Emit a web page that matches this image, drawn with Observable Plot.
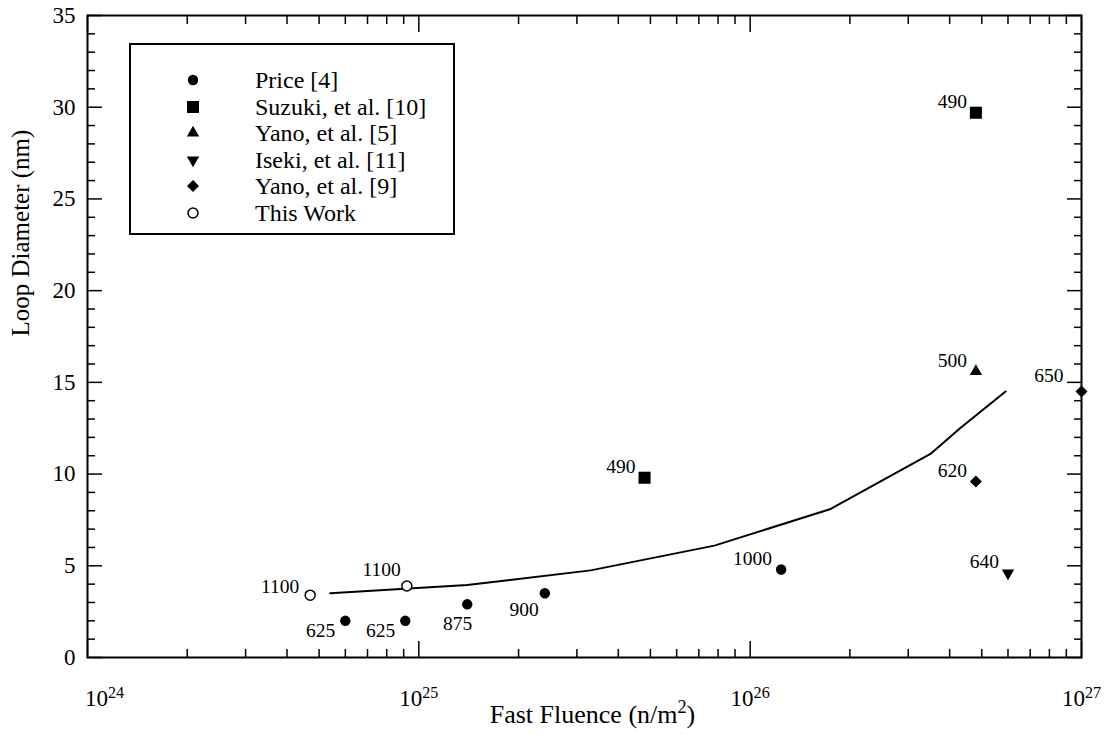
<!DOCTYPE html>
<html>
<head>
<meta charset="utf-8">
<script src="https://cdn.jsdelivr.net/npm/d3@7"></script>
<script src="https://cdn.jsdelivr.net/npm/@observablehq/plot@0.6"></script>
<style>
  html, body { margin: 0; padding: 0; background: #fff; }
  #wrap { position: relative; width: 1117px; height: 735px; }
  #legend {
    position: absolute; left: 129px; top: 43px; width: 326px; height: 192px;
    box-sizing: border-box; border: 2px solid #000; background: #fff;
    font-family: "Liberation Serif", "Times New Roman", serif; font-size: 24px; color: #000;
  }
  #legend .row { position: absolute; left: 0; height: 24px; line-height: 24px; white-space: nowrap; }
  #legend svg { position: absolute; left: 50px; top: 0; }
  #legend span { position: absolute; left: 124px; top: 0; }
</style>
</head>
<body>
<div id="wrap"><div id="chart"></div><div id="legend"></div></div>
<script>
// ---------------- data ----------------
const priceX = [6.0e24, 9.1e24, 1.4e25, 2.4e25, 1.24e26];
const priceY = [2.0, 2.0, 2.9, 3.5, 4.8];
const priceT = ["625", "625", "875", "900", "1000"];
const pricePos = ["sw", "sw", "s", "ssw", "nw"];

const suzukiX = [4.8e25, 4.8e26];
const suzukiY = [9.8, 29.7];
const suzukiT = ["490", "490"];
const suzukiPos = ["nw", "nw"];

const yano5X = [4.8e26];
const yano5Y = [15.6];
const yano5T = ["500"];
const yano5Pos = ["nw"];

const isekiX = [6.0e26];
const isekiY = [4.6];
const isekiT = ["640"];
const isekiPos = ["nw"];

const yano9X = [4.8e26, 1.0e27];
const yano9Y = [9.6, 14.5];
const yano9T = ["620", "650"];
const yano9Pos = ["nw", "nnw"];

const workX = [4.7e24, 9.2e24];
const workY = [3.4, 3.9];
const workT = ["1100", "1100"];
const workPos = ["w", "n"];

// model curve
const fitX = [5.4e24, 1.4e25, 3.3e25, 7.8e25, 1.75e26, 3.5e26, 4.3e26, 5.9e26];
const fitY = [3.5, 3.95, 4.75, 6.1, 8.1, 11.1, 12.5, 14.5];

// ticks
const xMajor = [1e24, 1e25, 1e26, 1e27];
const yMajor = [0, 5, 10, 15, 20, 25, 30, 35];
const seriesNames = ["Price [4]", "Suzuki, et al. [10]", "Yano, et al. [5]", "Iseki, et al. [11]", "Yano, et al. [9]", "This Work"];

// ---------------- styles ----------------
const styles = [
  {symbol: "circle",   r: 5.2, fill: "black", stroke: "none",  rotate: 0},
  {symbol: "square",   r: 6.8, fill: "black", stroke: "none",  rotate: 0},
  {symbol: "triangle", r: 4.6, fill: "black", stroke: "none",  rotate: 0},
  {symbol: "triangle", r: 4.6, fill: "black", stroke: "none",  rotate: 180},
  {symbol: "diamond2", r: 5.4, fill: "black", stroke: "none",  rotate: 0},
  {symbol: "circle",   r: 5.0, fill: "white", stroke: "black", rotate: 0}
];
const labelOffsets = {nw: [-9, -11], w: [-11, -8], n: [-6, -16], nnw: [-18, -16], sw: [-10, 10], ssw: [-6, 16], s: [5, 19]};

const seriesData = [
  [priceX, priceY, priceT, pricePos],
  [suzukiX, suzukiY, suzukiT, suzukiPos],
  [yano5X, yano5Y, yano5T, yano5Pos],
  [isekiX, isekiY, isekiT, isekiPos],
  [yano9X, yano9Y, yano9T, yano9Pos],
  [workX, workY, workT, workPos]
].map(([xs, ys, ts, ps], i) => xs.map((x, j) => ({x, y: ys[j], label: ts[j], pos: ps[j], s: i})));
const allPts = seriesData.flat();
const fit = fitX.map((x, i) => ({x, y: fitY[i]}));

const xMinor = [];
for (let e = 24; e < 27; e++) for (let k = 2; k <= 9; k++) xMinor.push(k * Math.pow(10, e));
const yMinor = d3.range(0, 36).filter(v => v % 5 !== 0);

const blank = () => "";
const tickStyle = {tickFormat: blank, label: null, strokeWidth: 1.5};

const marks = [
  Plot.axisY(yMajor, {anchor: "left", tickSize: -15, ...tickStyle}),
  Plot.axisY(yMinor, {anchor: "left", tickSize: -8, ...tickStyle}),
  Plot.axisY(yMajor, {anchor: "right", tickSize: -15, ...tickStyle}),
  Plot.axisY(yMinor, {anchor: "right", tickSize: -8, ...tickStyle}),
  Plot.axisX(xMajor, {anchor: "bottom", tickSize: -16, ...tickStyle}),
  Plot.axisX(xMinor, {anchor: "bottom", tickSize: -8, ...tickStyle}),
  Plot.axisX(xMajor, {anchor: "top", tickSize: -16, ...tickStyle}),
  Plot.axisX(xMinor, {anchor: "top", tickSize: -8, ...tickStyle}),
  Plot.axisY(yMajor, {anchor: "left", tickSize: 0, tickPadding: 12, fontSize: 23, label: null}),
  Plot.axisX(xMajor, {anchor: "bottom", tickSize: 0, tickPadding: 32, fontSize: 23, label: null,
    tickFormat: d => "10^" + Math.round(Math.log10(d))}),
  Plot.frame({stroke: "black", strokeWidth: 2}),
  Plot.line(fit, {x: "x", y: "y", stroke: "black", strokeWidth: 2, curve: "linear"}),
  Plot.text(["Loop Diameter (nm)"], {frameAnchor: "left", rotate: -90, dx: -67, fontSize: 25}),
  Plot.text(["Fast Fluence (n/m^2)"], {frameAnchor: "bottom", dx: 8, dy: 65, fontSize: 26})
];

seriesData.forEach((pts, i) => {
  const st = styles[i];
  marks.push(Plot.dot(pts, {x: "x", y: "y", symbol: st.symbol, r: st.r, fill: st.fill,
    stroke: st.stroke, strokeWidth: 1.5, rotate: st.rotate}));
});

for (const code of Object.keys(labelOffsets)) {
  const [dx, dy] = labelOffsets[code];
  marks.push(Plot.text(allPts.filter(d => d.pos === code), {x: "x", y: "y", text: "label",
    textAnchor: "end", dx, dy, fontSize: 19.5}));
}

const chart = Plot.plot({
  width: 1117, height: 735,
  marginTop: 15, marginRight: 36, marginBottom: 78, marginLeft: 87,
  style: {fontFamily: '"Liberation Serif", "Times New Roman", serif', fontSize: "22px", background: "white", color: "black", overflow: "visible"},
  x: {type: "log", domain: [1e24, 1e27]},
  y: {domain: [0, 35]},
  marks
});
document.getElementById("chart").appendChild(chart);

// superscripts (10^n tick labels and m^2)
d3.select(chart).selectAll("text").each(function() {
  const t = this.textContent;
  if (t.includes("^")) {
    const [base, sup] = t.split("^");
    const el = d3.select(this);
    el.text("");
    el.append("tspan").text(base);
    el.append("tspan").attr("dy", "-0.5em").attr("font-size", "0.7em").text(sup.replace(")", ""));
    if (sup.endsWith(")")) el.append("tspan").attr("dy", "0.35em").text(")");
    if (t === "10^24") el.attr("dx", 17);
  }
});

// legend
const legend = document.getElementById("legend");
seriesNames.forEach((name, i) => {
  const st = styles[i];
  const row = document.createElement("div");
  row.className = "row";
  row.style.top = (23 + i * 26.5) + "px";
  row.style.width = "100%";
  const svg = d3.create("svg").attr("width", 24).attr("height", 24);
  const symType = {circle: d3.symbolCircle, square: d3.symbolSquare, triangle: d3.symbolTriangle, diamond2: d3.symbolDiamond2}[st.symbol];
  svg.append("path")
    .attr("d", d3.symbol(symType, st.r * st.r * Math.PI)())
    .attr("transform", `translate(12,12) rotate(${st.rotate})`)
    .attr("fill", st.fill).attr("stroke", st.stroke).attr("stroke-width", 1.5);
  row.appendChild(svg.node());
  const span = document.createElement("span");
  span.textContent = name;
  row.appendChild(span);
  legend.appendChild(row);
});
</script>
</body>
</html>
